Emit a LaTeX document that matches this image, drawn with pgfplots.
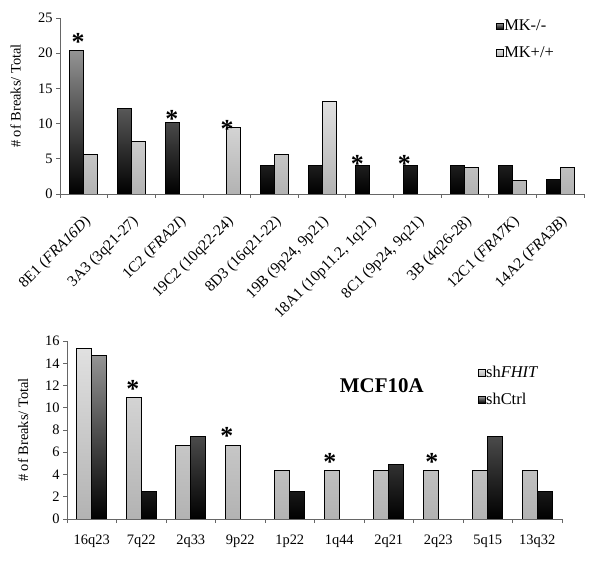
\documentclass[border=0pt]{standalone}
\usepackage{pgfplots}
\pgfplotsset{compat=1.18}
\usepackage{fontspec}
\setmainfont{Liberation Serif}
\begin{document}
\begin{tikzpicture}
\useasboundingbox (0bp,0bp) rectangle (601bp,568bp);
\tikzset{star/.style={font=\fontsize{26}{26}\selectfont\bfseries, inner sep=0pt}}
\pgfplotsset{
  darkbar/.style={draw=black, line width=0.9pt, top color=black!42, bottom color=black},
  lightbar/.style={draw=black, line width=0.9pt, top color=black!12, bottom color=black!30},
  brk/.style={
    scale only axis, ybar=0pt, axis lines*=left,
    axis line style={black!60, line width=0.7pt},
    tick style={black!60, line width=0.7pt},
    tick align=outside, xtick pos=left, ytick pos=left,
    major tick length=4bp, minor tick length=4bp,
    major x tick style={draw=none},
    /pgf/number format/assume math mode=true,
    tick label style={font=\fontsize{14.5}{16}\selectfont},
    legend cell align=left,
    legend image code/.code={\draw[##1, line width=0.6pt] (0bp,-3.2bp) rectangle (6.5bp,3.2bp);},
    legend style={draw=none, fill=none, inner sep=0pt, anchor=west,
      font=\fontsize{16.5}{18}\selectfont, nodes={inner sep=1pt}},
  },
}
% top chart
\begin{axis}[brk, at={(60bp,374bp)}, anchor=south west,
  width=524bp, height=176bp,
  xmin=-0.5, xmax=10.5, ymin=0, ymax=25, ytick={0,5,...,25},
  bar width=14bp,
  xtick={0,...,10},
  minor xtick={-0.5,0.5,...,10.5},
  xticklabels={8E1 (\textit{FRA16D}), 3A3 (3q21-27), 1C2 (\textit{FRA2I}),
    19C2 (10q22-24), 8D3 (16q21-22), {19B (9p24, 9p21)}, {18A1 (10p11.2, 1q21)},
    {8C1 (9p24, 9q21)}, 3B (4q26-28), 12C1 (\textit{FRA7K}), 14A2 (\textit{FRA3B})},
  x tick label style={xshift=7bp, yshift=-19bp, rotate=45, anchor=east,
    font=\fontsize{15.5}{17}\selectfont},
  legend style={at={(rel axis cs:0.832,0.878)}, row sep=12bp},
]
\addplot[darkbar] coordinates {(0,20.4) (1,12.2) (2,10.2) (4,4.1) (5,4.1) (6,4.1) (7,4.1) (8,4.1) (9,4.1) (10,2.0)};
\addplot[lightbar] coordinates {(0,5.6) (1,7.5) (3,9.4) (4,5.6) (5,13.2) (8,3.8) (9,1.9) (10,3.8)};
\legend{MK-/-, MK+/+}
\node[star] at (axis cs:-0.12,21.6) {*};
\node[star] at (axis cs:1.85,10.7) {*};
\node[star] at (axis cs:3.01,9.3) {*};
\node[star] at (axis cs:5.74,4.2) {*};
\node[star] at (axis cs:6.73,4.2) {*};
\end{axis}
% bottom chart
\begin{axis}[brk, at={(67bp,49bp)}, anchor=south west,
  width=495bp, height=178bp,
  xmin=-0.5, xmax=9.5, ymin=0, ymax=16, ytick={0,2,...,16},
  bar width=15bp,
  xtick={0,...,9},
  minor xtick={-0.5,0.5,...,9.5},
  xticklabels={16q23, 7q22, 2q33, 9p22, 1p22, 1q44, 2q21, 2q23, 5q15, 13q32},
  x tick label style={yshift=-8bp},
  legend style={at={(rel axis cs:0.83,0.745)}, row sep=12bp},
]
\addplot[lightbar] coordinates {(0,15.3) (1,10.9) (2,6.6) (3,6.6) (4,4.4) (5,4.4) (6,4.4) (7,4.4) (8,4.4) (9,4.4)};
\addplot[darkbar] coordinates {(0,14.7) (1,2.5) (2,7.4) (4,2.5) (6,4.9) (8,7.4) (9,2.5)};
\legend{sh\textit{FHIT}, shCtrl}
\node[font=\fontsize{21}{23}\selectfont\bfseries] at (axis cs:5.86,12.0) {MCF10A};
\node[star] at (axis cs:0.83,11.7) {*};
\node[star] at (axis cs:2.73,7.5) {*};
\node[star] at (axis cs:4.81,5.1) {*};
\node[star] at (axis cs:6.87,5.1) {*};
\end{axis}
\node[rotate=90, font=\fontsize{14.5}{16}\selectfont] at (15.5bp,472bp) {\# of Breaks/ Total};
\node[rotate=90, font=\fontsize{14.5}{16}\selectfont] at (23bp,138bp) {\# of Breaks/ Total};
\end{tikzpicture}
\end{document}
